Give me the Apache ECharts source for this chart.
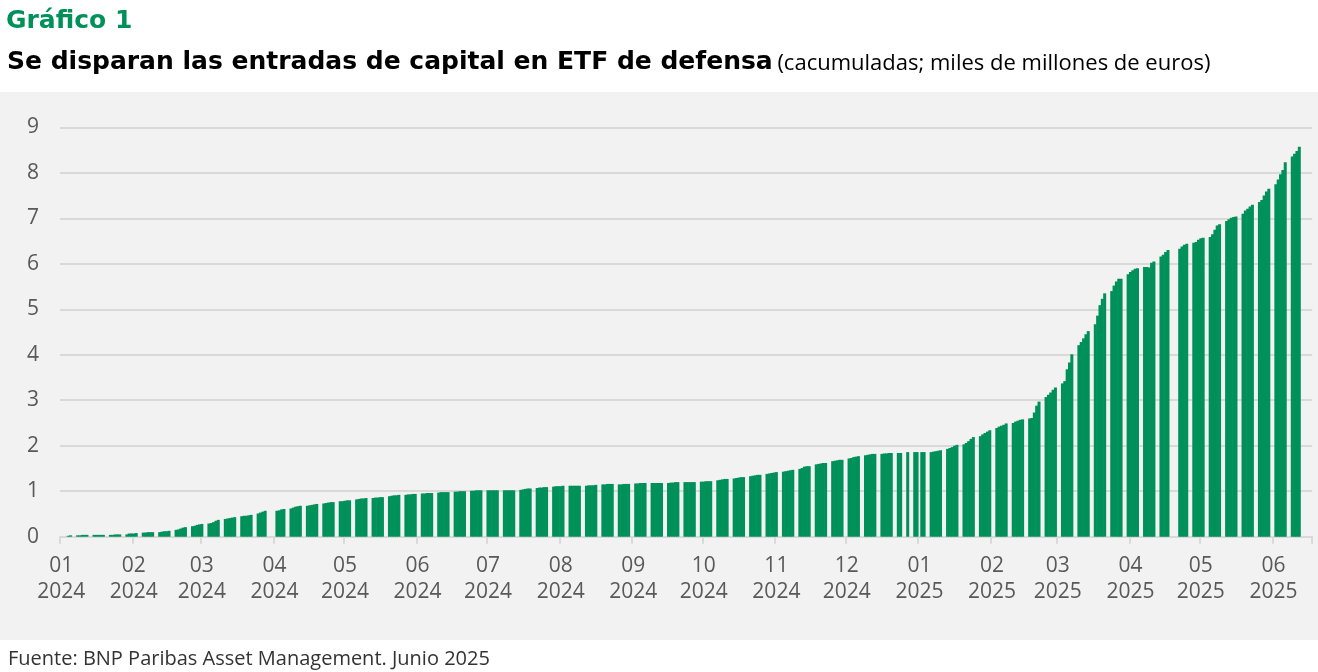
<!DOCTYPE html>
<html>
<head>
<meta charset="utf-8">
<script src="https://cdn.jsdelivr.net/npm/echarts@6/dist/echarts.min.js"></script>
<style>
html,body{margin:0;padding:0;background:#fff;}
#c{width:1318px;height:672px;}
</style>
</head>
<body>
<div id="c"></div>
<script>
// Axis range (calendar days) and market holidays
const startDate = '2024-01-01';
const endDate = '2025-06-17';
const holidays = ['2024-01-01','2024-03-29','2024-04-01','2024-12-25','2024-12-26','2025-01-01','2025-04-18','2025-04-21'];
const yTicks = [0,1,2,3,4,5,6,7,8,9];

// Cumulative inflows, one row per week (Mon..Fri), weeks starting Mon 2024-01-01; null = no trading
const weeklyValues = [
  [null,0,0,0.02,0.03],
  [0.03,0.03,0.04,0.04,0.04],
  [0.04,0.04,0.04,0.04,0.04],
  [0.04,0.04,0.05,0.05,0.05],
  [0.05,0.07,0.07,0.07,0.08],
  [0.09,0.09,0.10,0.10,0.10],
  [0.10,0.11,0.12,0.12,0.13],
  [0.15,0.16,0.18,0.20,0.21],
  [0.23,0.24,0.26,0.27,0.28],
  [0.29,0.30,0.32,0.35,0.37],
  [0.39,0.40,0.41,0.42,0.43],
  [0.45,0.46,0.46,0.47,0.48],
  [0.51,0.53,0.55,0.57,null],
  [null,0.57,0.58,0.60,0.61],
  [0.62,0.64,0.66,0.67,0.68],
  [0.68,0.69,0.70,0.71,0.72],
  [0.73,0.74,0.75,0.76,0.76],
  [0.78,0.78,0.79,0.80,0.80],
  [0.82,0.83,0.84,0.84,0.85],
  [0.85,0.86,0.86,0.87,0.87],
  [0.89,0.90,0.91,0.91,0.92],
  [0.92,0.93,0.93,0.94,0.94],
  [0.95,0.95,0.96,0.96,0.96],
  [0.97,0.98,0.98,0.98,0.98],
  [0.99,0.99,1.00,1.00,1.00],
  [1.01,1.01,1.02,1.02,1.02],
  [1.02,1.02,1.02,1.02,1.02],
  [1.02,1.02,1.02,1.02,1.02],
  [1.03,1.04,1.05,1.06,1.06],
  [1.07,1.08,1.08,1.09,1.09],
  [1.10,1.11,1.11,1.11,1.12],
  [1.12,1.12,1.12,1.12,1.12],
  [1.12,1.13,1.13,1.13,1.14],
  [1.15,1.15,1.16,1.16,1.16],
  [1.15,1.15,1.16,1.16,1.16],
  [1.17,1.17,1.18,1.18,1.18],
  [1.18,1.18,1.18,1.18,1.18],
  [1.18,1.19,1.19,1.20,1.20],
  [1.20,1.20,1.20,1.20,1.20],
  [1.21,1.21,1.22,1.22,1.22],
  [1.24,1.25,1.26,1.27,1.27],
  [1.28,1.29,1.30,1.31,1.31],
  [1.33,1.34,1.35,1.36,1.36],
  [1.38,1.39,1.40,1.41,1.42],
  [1.43,1.44,1.45,1.46,1.47],
  [1.49,1.51,1.54,1.55,1.55],
  [1.59,1.60,1.61,1.62,1.62],
  [1.66,1.67,1.68,1.69,1.69],
  [1.72,1.73,1.75,1.76,1.77],
  [1.79,1.80,1.81,1.82,1.82],
  [1.82,1.83,1.83,1.84,1.84],
  [1.84,1.84,null,null,1.86],
  [1.86,1.86,null,1.86,1.86],
  [1.86,1.87,1.88,1.89,1.90],
  [1.93,1.95,1.97,2.00,2.02],
  [2.03,2.06,2.10,2.15,2.19],
  [2.21,2.25,2.28,2.31,2.34],
  [2.39,2.42,2.44,2.46,2.49],
  [2.50,2.53,2.55,2.57,2.58],
  [2.60,2.61,2.73,2.88,2.97],
  [3.07,3.12,3.17,3.23,3.28],
  [3.37,3.42,3.68,3.83,4.01],
  [4.21,4.28,4.36,4.45,4.52],
  [4.67,4.86,5.09,5.23,5.35],
  [5.40,5.52,5.61,5.67,5.67],
  [5.77,5.82,5.86,5.89,5.90],
  [5.93,5.93,5.92,6.02,6.05],
  [6.16,6.20,6.26,6.30,null],
  [null,6.33,6.38,6.42,6.44],
  [6.46,6.48,6.53,6.56,6.57],
  [6.59,6.65,6.75,6.84,6.87],
  [6.94,6.98,7.01,7.03,7.04],
  [7.10,7.17,7.21,7.26,7.30],
  [7.36,7.40,7.50,7.59,7.65],
  [7.75,7.85,7.97,8.06,8.23],
  [8.36,8.42,8.48,8.57,null]
];

// Build daily categories and values
function fmt(d){
  const m = String(d.getUTCMonth()+1).padStart(2,'0');
  const dd = String(d.getUTCDate()).padStart(2,'0');
  return d.getUTCFullYear()+'-'+m+'-'+dd;
}
const categories = [];
const dailyValues = [];
{
  const s = new Date(startDate+'T00:00:00Z');
  const e = new Date(endDate+'T00:00:00Z');
  let i = 0;
  for (let t = s.getTime(); t <= e.getTime(); t += 86400000, i++) {
    const d = new Date(t);
    categories.push(fmt(d));
    const w = Math.floor(i/7), wd = i%7;
    let v = null;
    if (wd < 5 && w < weeklyValues.length) v = weeklyValues[w][wd];
    if (holidays.indexOf(fmt(d)) >= 0) v = null;
    dailyValues.push(v === null ? '-' : v);
  }
}
const isMonthStart = (idx, val) => val.slice(8,10) === '01';
const GREEN = '#00905a';

const chart = echarts.init(document.getElementById('c'), null, {renderer:'canvas'});
chart.setOption({
  animation: false,
  backgroundColor: '#ffffff',
  textStyle: {fontFamily: 'Open Sans'},
  graphic: [{
    type: 'rect', z: -10, silent: true,
    shape: {x: 0, y: 92, width: 1318, height: 548},
    style: {fill: '#f2f2f2'}
  }],
  title: [
    {text: 'Gráfico 1', left: 6, top: 9, padding: 0,
     textStyle: {color: '#00915a', fontSize: 25, fontWeight: 'bold', fontFamily: 'DejaVu Sans'}},
    {text: '{a|Se disparan las entradas de capital en ETF de defensa} {b|(cacumuladas; miles de millones de euros)}',
     left: 7, top: 50, padding: 0,
     textStyle: {rich: {
       a: {color: '#000', fontSize: 25, fontWeight: 'bold', fontFamily: 'DejaVu Sans'},
       b: {color: '#000', fontSize: 22, fontWeight: 'normal', fontFamily: 'Open Sans', padding:[3,0,0,0]}
     }}},
    {text: 'Fuente: BNP Paribas Asset Management. Junio 2025', left: 8, top: 649, padding: 0,
     textStyle: {color: '#333', fontSize: 20, fontWeight: 'normal', fontFamily: 'Open Sans'}}
  ],
  grid: {left: 60, top: 127.3, width: 1252.2, height: 409.4, containLabel: false},
  xAxis: {
    type: 'category',
    data: categories,
    boundaryGap: true,
    axisLine: {show: true, lineStyle: {color: '#d9d9d9', width: 2}},
    axisTick: {show: true, interval: isMonthStart, length: 7, alignWithLabel: false,
               lineStyle: {color: '#d9d9d9', width: 2}},
    axisLabel: {
      interval: isMonthStart,
      formatter: v => v.slice(5,7) + '\n' + v.slice(0,4),
      color: '#595959', fontSize: 21, lineHeight: 26, margin: 16, fontFamily: 'Open Sans'
    },
    splitLine: {show: false}
  },
  yAxis: {
    type: 'value', min: yTicks[0], max: yTicks[yTicks.length-1], interval: 1,
    axisLine: {show: false}, axisTick: {show: false},
    axisLabel: {color: '#595959', fontSize: 21, margin: 21, fontFamily: 'Open Sans'},
    splitLine: {lineStyle: {color: '#d9d9d9', width: 2}}
  },
  series: [{
    type: 'bar',
    data: dailyValues,
    barWidth: 3,
    itemStyle: {color: GREEN},
    emphasis: {disabled: true}
  }]
});
</script>
</body>
</html>
